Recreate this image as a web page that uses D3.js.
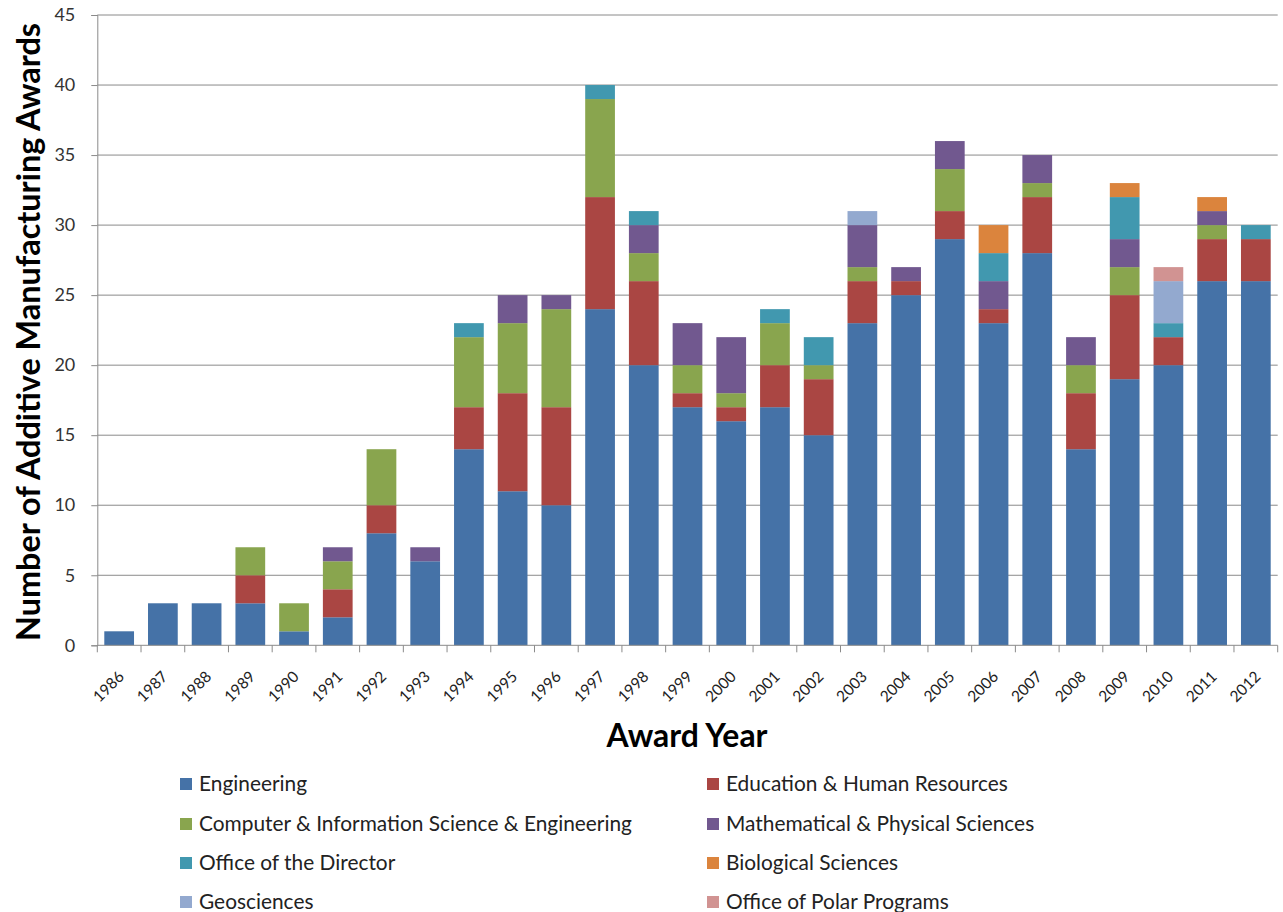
<!DOCTYPE html>
<html>
<head>
<meta charset="utf-8">
<script src="https://cdn.jsdelivr.net/npm/d3@7"></script>
<style>
  html, body { margin: 0; padding: 0; background: #fff; }
  svg { display: block; }
  text { font-family: Lato, "Open Sans", sans-serif; }
</style>
</head>
<body>
<svg id="chart" width="1283" height="912"></svg>
<script>
// ---- Data ----
const years = ["1986","1987","1988","1989","1990","1991","1992","1993","1994","1995","1996","1997","1998","1999","2000","2001","2002","2003","2004","2005","2006","2007","2008","2009","2010","2011","2012"];
const seriesNames = ["Engineering","Education & Human Resources","Computer & Information Science & Engineering","Mathematical & Physical Sciences","Office of the Director","Biological Sciences","Geosciences","Office of Polar Programs"];
const engineering   = [1,3,3,3,1,2,8,6,14,11,10,24,20,17,16,17,15,23,25,29,23,28,14,19,20,26,26];
const education     = [0,0,0,2,0,2,2,0,3,7,7,8,6,1,1,3,4,3,1,2,1,4,4,6,2,3,3];
const computerInfo  = [0,0,0,2,2,2,4,0,5,5,7,7,2,2,1,3,1,1,0,3,0,1,2,2,0,1,0];
const mathPhysical  = [0,0,0,0,0,1,0,1,0,2,1,0,2,3,4,0,0,3,1,2,2,2,2,2,0,1,0];
const officeDirector= [0,0,0,0,0,0,0,0,1,0,0,1,1,0,0,1,2,0,0,0,2,0,0,3,1,0,1];
const biological    = [0,0,0,0,0,0,0,0,0,0,0,0,0,0,0,0,0,0,0,0,2,0,0,1,0,1,0];
const geosciences   = [0,0,0,0,0,0,0,0,0,0,0,0,0,0,0,0,0,1,0,0,0,0,0,0,3,0,0];
const polarPrograms = [0,0,0,0,0,0,0,0,0,0,0,0,0,0,0,0,0,0,0,0,0,0,0,0,1,0,0];
const yTicks = [0,5,10,15,20,25,30,35,40,45];
const colors = ["#4572A7","#AA4643","#89A54E","#71588F","#4198AF","#DB843D","#93A9CF","#D19392"];

const seriesValues = [engineering, education, computerInfo, mathPhysical, officeDirector, biological, geosciences, polarPrograms];
const keys = seriesNames;
const table = years.map((yr, i) => {
  const row = { year: yr };
  keys.forEach((k, j) => row[k] = seriesValues[j][i]);
  return row;
});

// ---- Layout ----
const svg = d3.select("#chart");
const plotLeft = 97.3, plotRight = 1277.7, plotTop = 15, plotBottom = 645.3;

const x = d3.scaleBand().domain(years).range([plotLeft, plotRight]).paddingInner(0.32).paddingOuter(0.16);
const y = d3.scaleLinear().domain([0, 45]).range([plotBottom, plotTop]);
const color = d3.scaleOrdinal().domain(keys).range(colors);

// gridlines
svg.append("g").selectAll("line").data(yTicks.filter(d => d > 0)).join("line")
  .attr("x1", plotLeft).attr("x2", plotRight)
  .attr("y1", d => y(d)).attr("y2", d => y(d))
  .attr("stroke", "#8a8a8a").attr("stroke-width", 1);

// bars
const stacked = d3.stack().keys(keys)(table);
svg.append("g").selectAll("g").data(stacked).join("g")
  .attr("fill", d => color(d.key))
  .selectAll("rect").data(d => d).join("rect")
  .attr("x", d => x(d.data.year))
  .attr("width", x.bandwidth())
  .attr("y", d => y(d[1]))
  .attr("height", d => y(d[0]) - y(d[1]));

// y axis
const yAxis = svg.append("g").attr("transform", `translate(${plotLeft},0)`)
  .call(d3.axisLeft(y).tickValues(yTicks).tickSize(6).tickPadding(16));
yAxis.select(".domain").attr("stroke", "#8a8a8a");
yAxis.selectAll(".tick line").attr("stroke", "#8a8a8a");
yAxis.selectAll(".tick text").attr("font-size", 18).attr("fill", "#333")
  .attr("font-family", "Lato, sans-serif");

// x axis (ticks at category boundaries)
const xg = svg.append("g");
xg.append("line").attr("x1", plotLeft).attr("x2", plotRight).attr("y1", plotBottom).attr("y2", plotBottom)
  .attr("stroke", "#8a8a8a");
const bounds = d3.range(years.length + 1).map(i => plotLeft + i * (plotRight - plotLeft) / years.length);
xg.selectAll("line.tk").data(bounds).join("line").attr("class", "tk")
  .attr("x1", d => d).attr("x2", d => d).attr("y1", plotBottom).attr("y2", plotBottom + 7)
  .attr("stroke", "#8a8a8a");
xg.selectAll("text").data(years).join("text")
  .attr("transform", d => `translate(${x(d) + x.bandwidth() / 2 + 2},${plotBottom + 28.5}) rotate(-45)`)
  .attr("text-anchor", "end")
  .attr("dy", "0.35em")
  .attr("font-size", 15.5)
  .attr("fill", "#222")
  .text(d => d);

// fit text helper
function fitWidth(sel, target) {
  const node = sel.node();
  const fs = parseFloat(sel.attr("font-size"));
  const w = node.getComputedTextLength();
  if (w > 0) sel.attr("font-size", (fs * target / w).toFixed(2));
}

// axis titles
const xt = svg.append("text").attr("x", 687).attr("y", 747).attr("text-anchor", "middle")
  .attr("font-size", 27).attr("font-weight", 700).attr("fill", "#000").text("Award Year");
fitWidth(xt, 161);

const yt = svg.append("text").attr("transform", `translate(40,${(22 + 642) / 2}) rotate(-90)`)
  .attr("text-anchor", "middle")
  .attr("font-size", 27).attr("font-weight", 700).attr("fill", "#000")
  .text("Number of Additive Manufacturing Awards");
fitWidth(yt, 618);

// legend
const legendCols = [180, 707];
const legendRows = [784, 824, 863, 902];
const lg = svg.append("g").selectAll("g").data(keys).join("g")
  .attr("transform", (d, i) => `translate(${legendCols[i % 2]},${legendRows[Math.floor(i / 2)]})`);
lg.append("rect").attr("x", 0).attr("y", -6).attr("width", 12).attr("height", 12)
  .attr("fill", d => color(d));
const lt = lg.append("text").attr("x", 19).attr("y", 0).attr("dy", "0.35em")
  .attr("font-size", 19).attr("fill", "#222").text(d => d);
const engW = lt.filter((d, i) => i === 0).node().getComputedTextLength();
if (engW > 0) lt.attr("font-size", (19 * 108 / engW).toFixed(2));
</script>
</body>
</html>
